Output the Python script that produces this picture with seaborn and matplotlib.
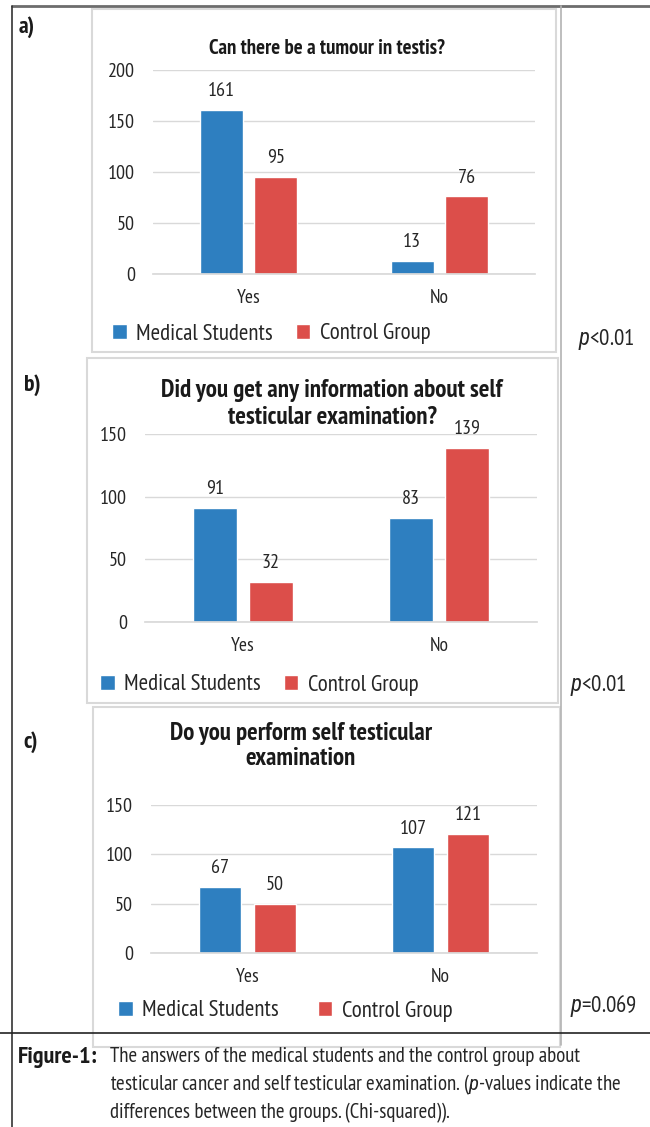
import numpy as np
import pandas as pd
import matplotlib
matplotlib.use("Agg")
import matplotlib.pyplot as plt
import seaborn as sns
from matplotlib.patches import Rectangle
from matplotlib.lines import Line2D

# data
answers = ["Yes", "No"]
groups = ["Medical Students", "Control Group"]
tumour_med = [161, 13]
tumour_ctrl = [95, 76]
info_med = [91, 83]
info_ctrl = [32, 139]
exam_med = [67, 107]
exam_ctrl = [50, 121]
titles = ["Can there be a tumour in testis?",
          "Did you get any information about self\ntesticular examination?",
          "Do you perform self testicular\nexamination"]
panel_labels = ["a)", "b)", "c)"]
p_values = [r"$p$<0.01", r"$p$<0.01", r"$p$=0.069"]
y_max = [200, 150, 150]

sns.set_theme(style="white")
plt.rcParams['font.family'] = ['PT Sans Narrow', 'DejaVu Sans']
plt.rcParams['mathtext.fontset'] = 'custom'
plt.rcParams['mathtext.it'] = 'Roboto Condensed:italic'
plt.rcParams['mathtext.rm'] = 'PT Sans Narrow'

W, H = 650, 1127
fig = plt.figure(figsize=(W / 100, H / 100), dpi=100)
fig.patch.set_facecolor("white")

blue = "#2e7fc0"
red = "#dc4e4a"
txt = "#262626"


def fx(x):
    return x / W


def fy(y):
    return 1 - y / H


def box(x0, y0, x1, y1, color="#d9d9d9", lw=1.5):
    fig.add_artist(Rectangle((fx(x0), fy(y1)), fx(x1 - x0), (y1 - y0) / H,
                             transform=fig.transFigure, fill=False, ec=color, lw=lw))


def line(x0, y0, x1, y1, color, lw):
    fig.add_artist(Line2D([fx(x0), fx(x1)], [fy(y0), fy(y1)],
                          transform=fig.transFigure, color=color, lw=lw))


# outer frame
line(12, 6, 650, 6, "#6d6d6d", 2)
line(12, 6, 12, 1127, "#333333", 1.2)
line(561, 6, 561, 1045, "#b3b3b3", 1.2)

# panel boxes
box(92, 9, 556, 352)
box(87, 358, 558, 703)
box(93, 707, 560, 1047)

line(0, 1033, 650, 1033, "#222222", 1.2)

axes_px = [(153, 70, 535, 274), (145, 434, 537, 622), (151, 805, 537, 953)]
title_pos = [(327, 49), (332, 404), (301, 746)]
title_size = [15, 18, 17.8]
title_ls = [1.2, 1.17, 1.13]
label_pos = [(19, 27), (24, 385), (23, 742)]
legend_pos = [(271, 334), (259, 685), (285, 1011)]
col_space = [1.0, 1.0, 1.7]
p_pos = [(578, 340), (570, 686), (570, 1006)]
series = [(tumour_med, tumour_ctrl), (info_med, info_ctrl), (exam_med, exam_ctrl)]

for i, (med, ctrl) in enumerate(series):
    x0, y0, x1, y1 = axes_px[i]
    ax = fig.add_axes([fx(x0), fy(y1), fx(x1 - x0), (y1 - y0) / H])
    ax.set_facecolor("none")
    df = pd.DataFrame({
        "answer": answers * 2,
        "group": [groups[0]] * 2 + [groups[1]] * 2,
        "count": list(med) + list(ctrl),
    })
    sns.barplot(data=df, x="answer", y="count", hue="group", order=answers,
                hue_order=groups, palette=[blue, red], width=0.57, gap=0.22,
                saturation=1, ax=ax)
    for cont in ax.containers:
        ax.bar_label(cont, padding=7, fontsize=14.5, color=txt)
    ax.set_ylim(0, y_max[i])
    ax.set_xlim(-0.5, 1.5)
    ax.set_yticks(np.arange(0, y_max[i] + 1, 50))
    ax.yaxis.grid(True, color="#d9d9d9", lw=1)
    ax.set_axisbelow(True)
    for s in ["top", "right", "left"]:
        ax.spines[s].set_visible(False)
    ax.spines["bottom"].set_color("#d9d9d9")
    ax.tick_params(axis="y", length=0, pad=13, labelsize=14.5, labelcolor=txt)
    ax.tick_params(axis="x", length=0, pad=11, labelsize=14, labelcolor=txt)
    ax.set_xlabel("")
    ax.set_ylabel("")
    sns.move_legend(ax, "center", bbox_to_anchor=(fx(legend_pos[i][0]), fy(legend_pos[i][1])),
                    bbox_transform=fig.transFigure, ncol=2, frameon=False, title=None,
                    fontsize=16.5, handlelength=0.65, handleheight=0.65,
                    handletextpad=0.4, columnspacing=col_space[i])
    for t in ax.get_legend().get_texts():
        t.set_color(txt)

    fig.text(fx(title_pos[i][0]), fy(title_pos[i][1]), titles[i], ha="center", va="center",
             fontsize=title_size[i], fontweight="bold", color="#1a1a1a",
             linespacing=title_ls[i])
    fig.text(fx(label_pos[i][0]), fy(label_pos[i][1]), panel_labels[i], ha="left", va="center",
             fontsize=17, fontweight="bold", color="#1a1a1a")
    fig.text(fx(p_pos[i][0]), fy(p_pos[i][1]), p_values[i], ha="left", va="center",
             fontsize=16.5, color=txt)

# caption
fig.text(fx(18), fy(1057), "Figure-1:", ha="left", va="center", fontsize=17.5,
         fontweight="bold", color="#1a1a1a")
caption = ["The answers of the medical students and the control group about",
           r"testicular cancer and self testicular examination. ($p$-values indicate the",
           "differences between the groups. (Chi-squared))."]
for k, ln in enumerate(caption):
    fig.text(fx(110), fy(1057 + 28 * k), ln, ha="left", va="center", fontsize=15, color=txt)

fig.savefig("out.png", dpi=100)
